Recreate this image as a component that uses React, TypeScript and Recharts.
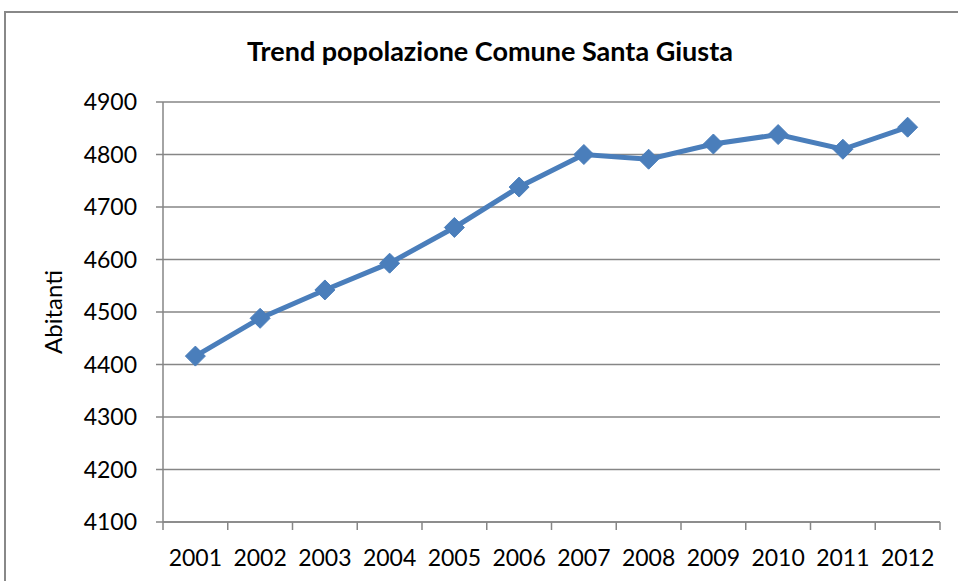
import { LineChart, Line, XAxis, YAxis, CartesianGrid } from "recharts";

const years = ["2001", "2002", "2003", "2004", "2005", "2006", "2007", "2008", "2009", "2010", "2011", "2012"];
const abitanti = [4416, 4488, 4542, 4593, 4661, 4738, 4800, 4791, 4820, 4838, 4810, 4852];
const yTicks = [4100, 4200, 4300, 4400, 4500, 4600, 4700, 4800, 4900];

const data = years.map((y, i) => ({ year: y, value: abitanti[i] }));

const W = 958;
const H = 581;
const FONT = "Lato, 'Liberation Sans', sans-serif";
const AXIS = "#868686";
const BLUE = "#4A7EBB";
const STEP = (940 - 163) / years.length;

function Diamond(props: any) {
  const { cx, cy } = props;
  if (cx == null || cy == null) return null;
  const r = 10;
  return (
    <polygon
      points={`${cx},${cy - r} ${cx + r},${cy} ${cx},${cy + r} ${cx - r},${cy}`}
      fill={BLUE}
      stroke={BLUE}
      strokeWidth={1}
    />
  );
}

function XTick(props: any) {
  const { x, y, payload, index } = props;
  const left = x - STEP / 2;
  return (
    <g>
      <line x1={left} y1={y - 8} x2={left} y2={y} stroke={AXIS} strokeWidth={1.5} />
      {index === years.length - 1 && (
        <line x1={x + STEP / 2} y1={y - 8} x2={x + STEP / 2} y2={y} stroke={AXIS} strokeWidth={1.5} />
      )}
      <text x={x} y={y + 36} textAnchor="middle" fontSize={23} fill="#000" fontFamily={FONT}>
        {payload.value}
      </text>
    </g>
  );
}

export default function App() {
  return (
    <div style={{ position: "absolute", left: 0, top: 0, width: W, height: H, overflow: "hidden", background: "#fff" }}>
      <div
        style={{
          position: "absolute",
          left: 4,
          top: 11,
          width: W + 20,
          height: H + 20,
          border: "2px solid #888",
        }}
      />
      <div
        style={{
          position: "absolute",
          left: 0,
          top: 34,
          width: 980,
          textAlign: "center",
          fontFamily: FONT,
          fontWeight: 700,
          fontSize: 27,
          color: "#000",
        }}
      >
        Trend popolazione Comune Santa Giusta
      </div>
      <div style={{ position: "absolute", left: 0, top: 0 }}>
        <LineChart width={W} height={H} data={data} margin={{ top: 102, right: 18, bottom: 29, left: 103 }}>
          <CartesianGrid vertical={false} stroke={AXIS} strokeWidth={1.5} />
          <XAxis
            dataKey="year"
            axisLine={{ stroke: AXIS, strokeWidth: 1.5 }}
            tickLine={false}
            tick={<XTick />}
            interval={0}
            height={30}
            padding={{ left: STEP / 2, right: STEP / 2 }}
          />
          <YAxis
            domain={[4100, 4900]}
            ticks={yTicks}
            width={60}
            axisLine={{ stroke: AXIS, strokeWidth: 1.5 }}
            tickLine={{ stroke: AXIS, strokeWidth: 1.5 }}
            tickSize={7}
            tickMargin={19}
            tick={{ fill: "#000", fontSize: 23, fontFamily: FONT }}
            label={{
              value: "Abitanti",
              angle: -90,
              position: "insideLeft",
              offset: -50,
              style: { fill: "#000", fontSize: 24, fontFamily: FONT, textAnchor: "middle" },
            }}
          />
          <Line
            type="linear"
            dataKey="value"
            stroke={BLUE}
            strokeWidth={5}
            dot={<Diamond />}
            activeDot={false}
            isAnimationActive={false}
          />
        </LineChart>
      </div>
    </div>
  );
}
